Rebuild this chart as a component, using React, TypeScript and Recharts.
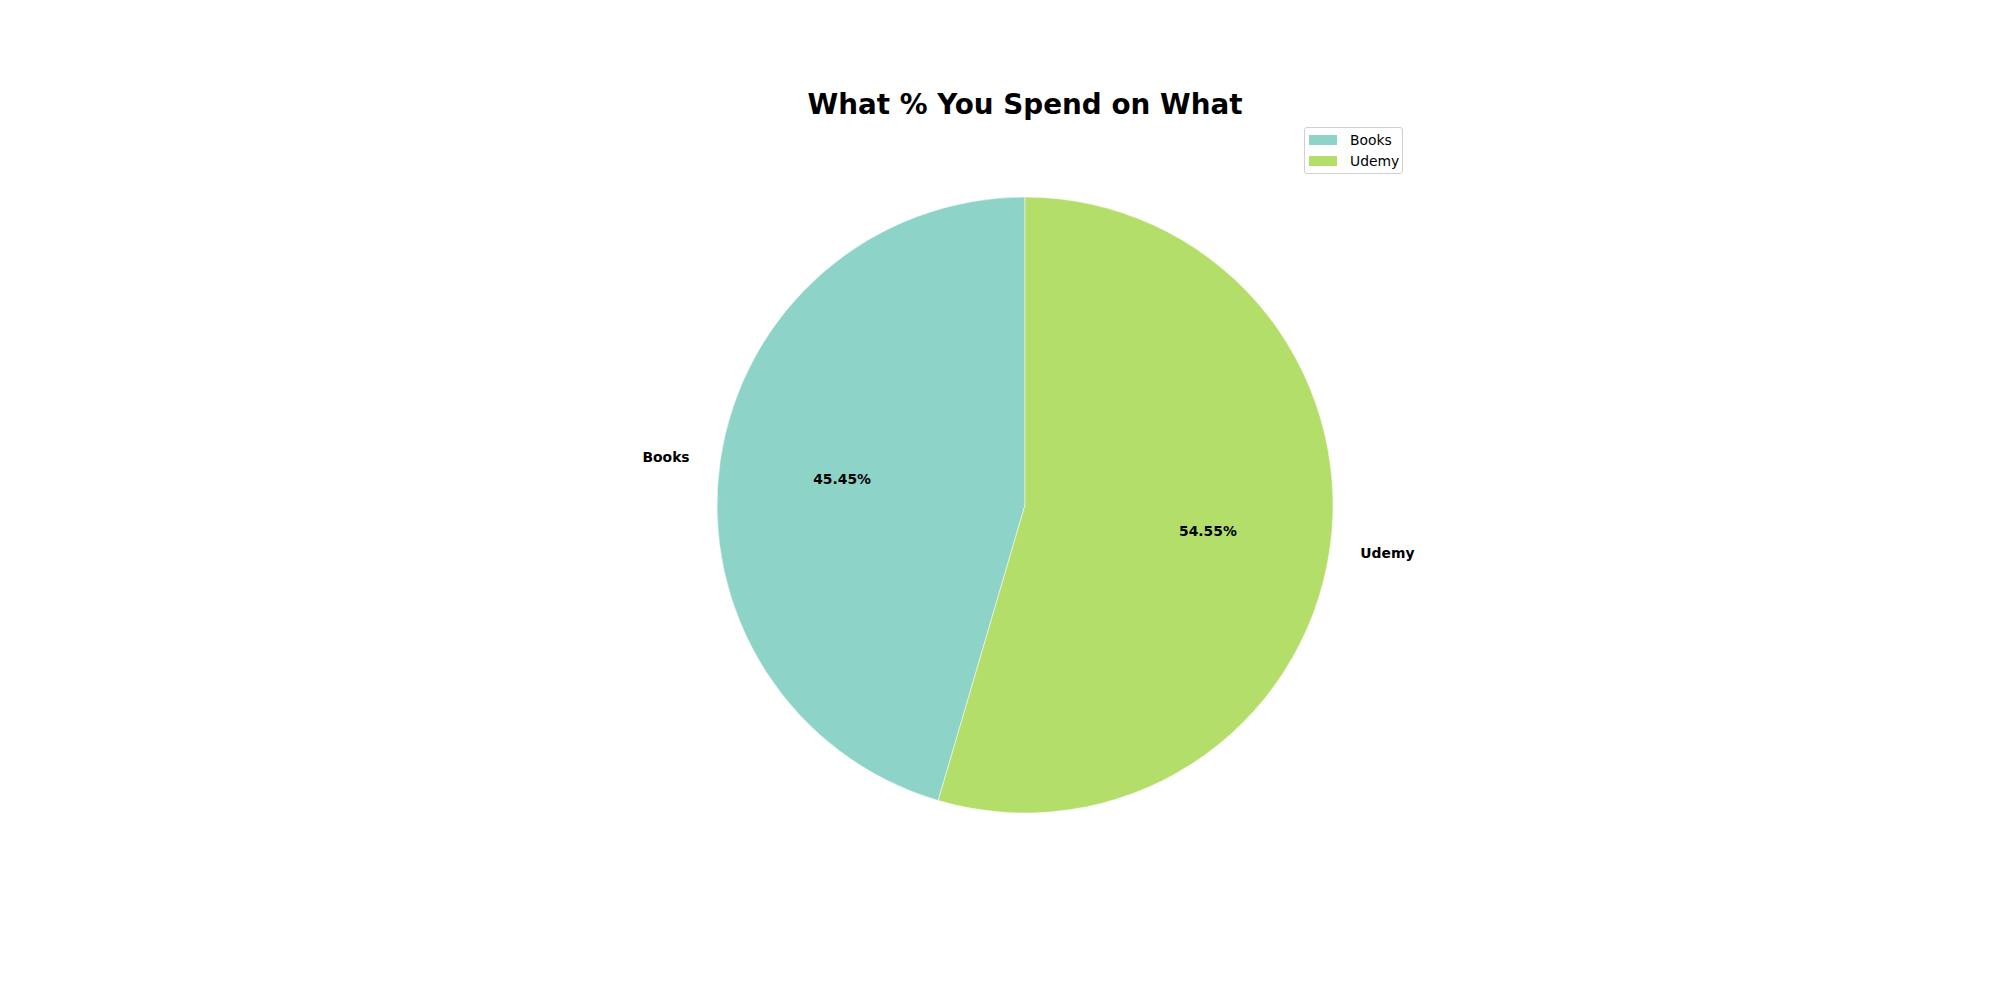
import { PieChart, Pie, Cell, Legend } from 'recharts';

const categories = ['Books', 'Udemy'];
const spend = [5, 6];
const colors = ['#8dd3c7', '#b3de69'];

const data = categories.map((name, i) => ({ name, value: spend[i] }));
const RADIAN = Math.PI / 180;
const font = '"DejaVu Sans", sans-serif';

const renderLabel = (props: any) => {
  const { cx, cy, midAngle, outerRadius, percent, name } = props;
  const cos = Math.cos(-midAngle * RADIAN);
  const sin = Math.sin(-midAngle * RADIAN);
  const lx = cx + outerRadius * 1.1 * cos;
  const ly = cy + outerRadius * 1.1 * sin;
  const px = cx + outerRadius * 0.6 * cos;
  const py = cy + outerRadius * 0.6 * sin;
  return (
    <g>
      <text x={lx} y={ly} textAnchor={cos >= 0 ? 'start' : 'end'} dominantBaseline="central"
        fontFamily={font} fontSize={13.9} fontWeight="bold" fill="#000">
        {name}
      </text>
      <text x={px} y={py} textAnchor="middle" dominantBaseline="central"
        fontFamily={font} fontSize={13.9} fontWeight="bold" fill="#000">
        {(percent * 100).toFixed(2)}%
      </text>
    </g>
  );
};

const LegendBox = () => (
  <div style={{
    border: '1px solid #d0d0d0', borderRadius: 3, background: '#fff',
    padding: '1px 6px 2px 4px', width: 99, boxSizing: 'border-box',
  }}>
    {categories.map((c, i) => (
      <div key={c} style={{ display: 'flex', alignItems: 'center', height: 21, fontFamily: font, fontSize: 13.9, color: '#000', whiteSpace: 'nowrap' }}>
        <span style={{ width: 28, height: 10, background: colors[i], marginRight: 13, flexShrink: 0, display: 'inline-block' }} />
        {c}
      </div>
    ))}
  </div>
);

export default function App() {
  return (
    <div style={{ position: 'absolute', left: 0, top: 0, width: 2000, height: 1000, background: '#fff' }}>
      <div style={{
        position: 'absolute', left: 25, width: 2000, top: 91, textAlign: 'center',
        fontFamily: font, fontWeight: 'bold', fontSize: 27.8, lineHeight: '28px', color: '#000',
      }}>
        What % You Spend on What
      </div>
      <PieChart width={2000} height={1000} margin={{ top: 0, right: 0, bottom: 0, left: 0 }}>
        <Pie
          data={data}
          dataKey="value"
          nameKey="name"
          cx={1025}
          cy={505}
          outerRadius={308}
          startAngle={90}
          endAngle={450}
          stroke="#fff"
          strokeWidth={0.5}
          label={renderLabel}
          labelLine={false}
          isAnimationActive={false}
        >
          {data.map((d, i) => <Cell key={d.name} fill={colors[i]} />)}
        </Pie>
        <Legend content={<LegendBox />} wrapperStyle={{ position: 'absolute', left: 1304, top: 127, width: 'auto' }} />
      </PieChart>
    </div>
  );
}
